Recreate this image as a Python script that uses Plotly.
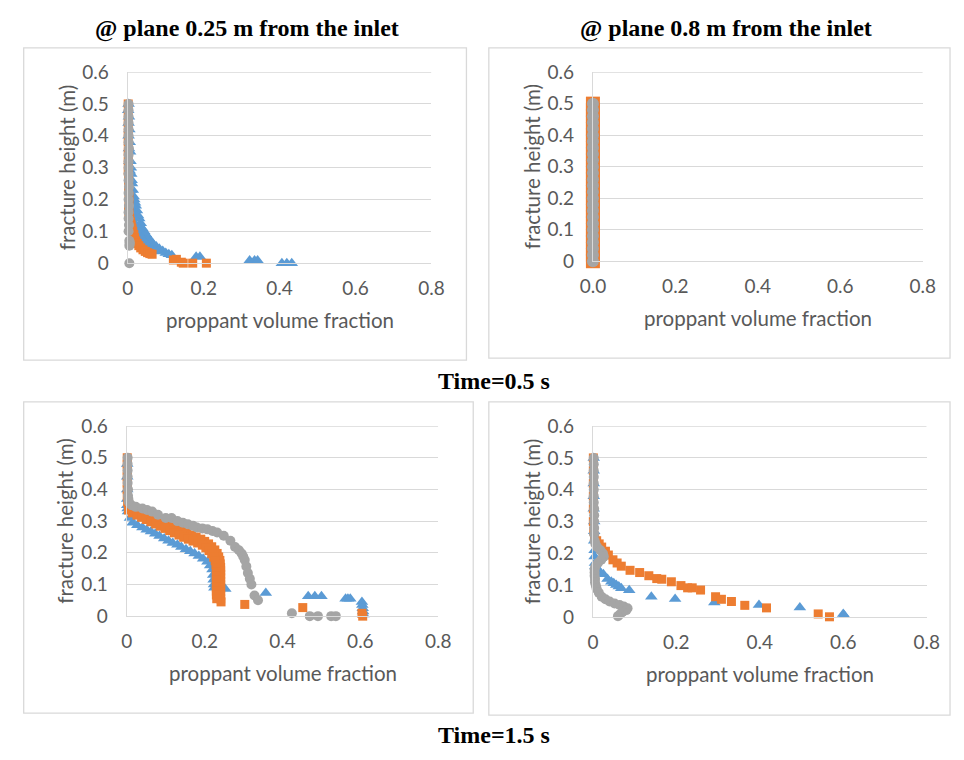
import plotly.graph_objects as go

W, H = 964, 760

# ---------------- data: proppant volume fraction vs. fracture height ----------------
# Panel A: t = 0.5 s, plane 0.25 m from the inlet
a_blue_x = [0.002, 0.003, 0.004, 0.005, 0.006, 0.007, 0.008, 0.009, 0.010, 0.011, 0.013, 0.015,
            0.017, 0.019, 0.021, 0.024, 0.027, 0.030, 0.034, 0.038, 0.043, 0.048, 0.054, 0.060,
            0.067, 0.075, 0.083, 0.092, 0.100, 0.108, 0.116,
            0.001, 0.002, 0.002, 0.003, 0.004, 0.005, 0.006, 0.008, 0.010, 0.012, 0.015, 0.018,
            0.022, 0.026, 0.031, 0.037, 0.044, 0.052, 0.062, 0.072,
            0.180, 0.190, 0.321, 0.334, 0.342, 0.406, 0.419, 0.432]
a_blue_h = [0.50, 0.46, 0.42, 0.38, 0.35, 0.32, 0.30, 0.28, 0.26, 0.25, 0.23, 0.21,
            0.20, 0.19, 0.18, 0.165, 0.15, 0.14, 0.125, 0.11, 0.10, 0.09, 0.08, 0.07,
            0.06, 0.052, 0.045, 0.038, 0.032, 0.028, 0.025,
            0.48, 0.44, 0.40, 0.36, 0.32, 0.29, 0.26, 0.23, 0.20, 0.18, 0.16, 0.14,
            0.12, 0.105, 0.09, 0.078, 0.066, 0.055, 0.045, 0.037,
            0.02, 0.02, 0.008, 0.008, 0.008, 0.0, 0.0, 0.0]
a_orange_x = [0.001, 0.001, 0.001, 0.001, 0.001, 0.001, 0.001, 0.001, 0.002, 0.002, 0.003, 0.003,
              0.002, 0.003, 0.004, 0.005, 0.007, 0.009, 0.011, 0.013, 0.016, 0.018, 0.021, 0.025,
              0.029, 0.034, 0.040, 0.046, 0.052, 0.058, 0.064,
              0.120, 0.128, 0.141, 0.146, 0.171, 0.207]
a_orange_h = [0.50, 0.47, 0.44, 0.41, 0.38, 0.35, 0.32, 0.29, 0.26, 0.23, 0.21, 0.19,
              0.17, 0.16, 0.15, 0.14, 0.13, 0.12, 0.11, 0.10, 0.09, 0.08, 0.07, 0.062,
              0.055, 0.048, 0.042, 0.037, 0.033, 0.030, 0.028,
              0.01, 0.012, 0.003, 0.0, 0.0, 0.0]
a_gray_x = [0.002, 0.002, 0.002, 0.002, 0.002, 0.002, 0.002, 0.003, 0.002, 0.002, 0.002, 0.002,
            0.002, 0.003, 0.002, 0.002, 0.003, 0.002, 0.002, 0.003, 0.002,
            0.004, 0.005, 0.005, 0.004, 0.004]
a_gray_h = [0.50, 0.48, 0.46, 0.44, 0.42, 0.40, 0.38, 0.36, 0.34, 0.32, 0.30, 0.28,
            0.26, 0.24, 0.22, 0.20, 0.18, 0.16, 0.14, 0.12, 0.10,
            0.07, 0.065, 0.06, 0.055, 0.0]

# Panel B: t = 0.5 s, plane 0.8 m from the inlet (no proppant has arrived yet)
b_blue_x = [0.0, 0.0, 0.0, 0.0, 0.0, 0.0, 0.0, 0.0, 0.0, 0.0, 0.0, 0.0, 0.0,
            0.0, 0.0, 0.0, 0.0, 0.0, 0.0, 0.0, 0.0, 0.0, 0.0, 0.0, 0.0, 0.0]
b_orange_x = [0.0, 0.0, 0.0, 0.0, 0.0, 0.0, 0.0, 0.0, 0.0, 0.0, 0.0, 0.0, 0.0,
              0.0, 0.0, 0.0, 0.0, 0.0, 0.0, 0.0, 0.0, 0.0, 0.0, 0.0, 0.0, 0.0]
b_gray_x = [0.0, 0.0, 0.0, 0.0, 0.0, 0.0, 0.0, 0.0, 0.0, 0.0, 0.0, 0.0, 0.0,
            0.0, 0.0, 0.0, 0.0, 0.0, 0.0, 0.0, 0.0, 0.0, 0.0, 0.0, 0.0, 0.0]
b_h = [0.50, 0.48, 0.46, 0.44, 0.42, 0.40, 0.38, 0.36, 0.34, 0.32, 0.30, 0.28, 0.26,
       0.24, 0.22, 0.20, 0.18, 0.16, 0.14, 0.12, 0.10, 0.08, 0.06, 0.04, 0.02, 0.0]

# Panel C: t = 1.5 s, plane 0.25 m from the inlet
c_blue_x = [0.001, 0.001, 0.001, 0.001, 0.001, 0.002, 0.003, 0.008, 0.015, 0.027, 0.040, 0.051,
            0.062, 0.073, 0.084, 0.096, 0.107, 0.118, 0.130, 0.140, 0.152, 0.163, 0.174, 0.185,
            0.196, 0.207, 0.214, 0.220, 0.222, 0.223, 0.224, 0.225,
            0.253, 0.357, 0.466, 0.483, 0.500, 0.562, 0.568, 0.574,
            0.604, 0.605, 0.606, 0.607, 0.608]
c_blue_h = [0.48, 0.44, 0.40, 0.37, 0.35, 0.34, 0.33, 0.31, 0.295, 0.287, 0.280, 0.273,
            0.267, 0.260, 0.253, 0.245, 0.238, 0.231, 0.225, 0.218, 0.211, 0.205, 0.198, 0.190,
            0.181, 0.172, 0.160, 0.147, 0.130, 0.115, 0.100, 0.090,
            0.086, 0.073, 0.063, 0.063, 0.063, 0.055, 0.055, 0.055,
            0.045, 0.035, 0.025, 0.015, 0.005]
c_orange_x = [0.001, 0.001, 0.001, 0.001, 0.001, 0.001, 0.001,
              0.002, 0.005, 0.012, 0.022, 0.034, 0.046, 0.058, 0.070, 0.082, 0.094, 0.106, 0.118,
              0.130, 0.142, 0.154, 0.166, 0.178, 0.190, 0.200, 0.210, 0.218, 0.226, 0.232, 0.236,
              0.239, 0.240, 0.241, 0.241, 0.241, 0.241, 0.241, 0.241, 0.241, 0.241, 0.241, 0.241,
              0.242,
              0.004, 0.014, 0.026, 0.038, 0.050, 0.062, 0.074, 0.086, 0.098, 0.110, 0.122, 0.134,
              0.146, 0.158, 0.170, 0.182, 0.194, 0.203, 0.211, 0.218, 0.223, 0.227, 0.229, 0.230,
              0.230, 0.230, 0.230, 0.230, 0.230, 0.230, 0.230, 0.231,
              0.303, 0.452, 0.604, 0.606]
c_orange_h = [0.50, 0.48, 0.46, 0.44, 0.42, 0.40, 0.38,
              0.360, 0.350, 0.342, 0.336, 0.329, 0.322, 0.316, 0.309, 0.302, 0.295, 0.288, 0.281,
              0.274, 0.268, 0.262, 0.256, 0.250, 0.243, 0.236, 0.228, 0.219, 0.209, 0.198, 0.187,
              0.176, 0.165, 0.154, 0.143, 0.132, 0.121, 0.110, 0.099, 0.088, 0.077, 0.066, 0.055,
              0.045,
              0.335, 0.326, 0.319, 0.312, 0.305, 0.298, 0.291, 0.284, 0.277, 0.270, 0.263, 0.256,
              0.249, 0.243, 0.237, 0.231, 0.224, 0.216, 0.207, 0.197, 0.186, 0.175, 0.163, 0.151,
              0.139, 0.127, 0.115, 0.103, 0.091, 0.079, 0.067, 0.055,
              0.037, 0.027, 0.009, 0.0]
c_gray_x = [0.002, 0.002, 0.002, 0.002, 0.002, 0.003, 0.003, 0.004, 0.005,
            0.012, 0.023, 0.040, 0.052, 0.065, 0.080, 0.100, 0.115, 0.130, 0.144, 0.157, 0.170,
            0.180, 0.194, 0.207, 0.220, 0.232, 0.249, 0.266, 0.278, 0.288, 0.295, 0.299, 0.303,
            0.307, 0.311, 0.316, 0.320, 0.328, 0.337,
            0.424, 0.470, 0.491, 0.525, 0.537]
c_gray_h = [0.50, 0.48, 0.46, 0.44, 0.42, 0.40, 0.38, 0.37, 0.36,
            0.350, 0.345, 0.340, 0.335, 0.330, 0.320, 0.310, 0.310, 0.300, 0.295, 0.290, 0.285,
            0.280, 0.277, 0.274, 0.269, 0.264, 0.254, 0.238, 0.218, 0.208, 0.198, 0.188, 0.177,
            0.157, 0.136, 0.118, 0.100, 0.065, 0.050,
            0.009, 0.0, 0.0, 0.0, 0.0]

# Panel D: t = 1.5 s, plane 0.8 m from the inlet
d_blue_x = [0.002, 0.002, 0.002, 0.002, 0.002, 0.003, 0.003, 0.003, 0.004, 0.004, 0.005, 0.006,
            0.010, 0.018, 0.025, 0.035, 0.044, 0.050, 0.056, 0.062, 0.068, 0.087,
            0.140, 0.197, 0.291, 0.398, 0.496, 0.600, 0.602]
d_blue_h = [0.50, 0.46, 0.42, 0.38, 0.34, 0.30, 0.27, 0.24, 0.21, 0.19, 0.17, 0.16,
            0.150, 0.140, 0.135, 0.120, 0.111, 0.106, 0.101, 0.096, 0.091, 0.084,
            0.064, 0.057, 0.046, 0.038, 0.030, 0.010, 0.006]
d_orange_x = [0.001, 0.001, 0.001, 0.001, 0.001, 0.001, 0.002,
              0.004, 0.009, 0.015, 0.021, 0.030, 0.037, 0.048, 0.058, 0.068, 0.089, 0.112, 0.134,
              0.153, 0.165, 0.188, 0.211, 0.227, 0.238, 0.258, 0.294, 0.308, 0.332, 0.364, 0.416,
              0.540, 0.567]
d_orange_h = [0.50, 0.46, 0.42, 0.38, 0.34, 0.30, 0.27,
              0.250, 0.240, 0.230, 0.220, 0.207, 0.195, 0.180, 0.170, 0.160, 0.147, 0.140, 0.130,
              0.121, 0.119, 0.111, 0.099, 0.092, 0.092, 0.085, 0.064, 0.056, 0.049, 0.037, 0.029,
              0.010, 0.001]
d_gray_x = [0.002, 0.002, 0.002, 0.002, 0.002, 0.002, 0.002, 0.002, 0.003, 0.003, 0.003, 0.003,
            0.003, 0.004, 0.006, 0.010, 0.018, 0.024, 0.026, 0.020, 0.012, 0.006,
            0.004, 0.004, 0.004, 0.005, 0.005, 0.007, 0.009, 0.014, 0.021, 0.030, 0.040,
            0.052, 0.064, 0.074, 0.083, 0.080, 0.071, 0.065, 0.060]
d_gray_h = [0.50, 0.48, 0.46, 0.44, 0.42, 0.40, 0.38, 0.36, 0.34, 0.32, 0.30, 0.28,
            0.26, 0.24, 0.23, 0.22, 0.21, 0.20, 0.19, 0.18, 0.17, 0.16,
            0.15, 0.14, 0.13, 0.12, 0.109, 0.099, 0.089, 0.077, 0.064, 0.056, 0.049,
            0.043, 0.038, 0.033, 0.028, 0.022, 0.016, 0.009, 0.003]

x_ticks = [0, 0.2, 0.4, 0.6, 0.8]
y_ticks = [0, 0.1, 0.2, 0.3, 0.4, 0.5, 0.6]

# ---------------- styling ----------------
BLUE, ORANGE, GRAY = "#5B9BD5", "#ED7D31", "#A5A5A5"
GRID = "#D9D9D9"
TICK = "#595959"
FONT = "Lato"


def px(x):
    return x / W


def py(y):
    return 1 - y / H


# plot-area pixel boxes (left, right, top, bottom) for the four panels
panels = [
    dict(box=(118, 430, 62, 259), series=[(a_blue_x, a_blue_h), (a_orange_x, a_orange_h), (a_gray_x, a_gray_h)],
         fmt="", sizes=(11, 9, 10)),
    dict(box=(596, 935, 62, 257), series=[(b_blue_x, b_h), (b_orange_x, b_h), (b_gray_x, b_h)],
         fmt=".1f", sizes=(12, 14, 12)),
    dict(box=(117, 437, 427, 623), series=[(c_blue_x, c_blue_h), (c_orange_x, c_orange_h), (c_gray_x, c_gray_h)],
         fmt="", sizes=(11, 9, 10)),
    dict(box=(596, 939, 427, 624), series=[(d_blue_x, d_blue_h), (d_orange_x, d_orange_h), (d_gray_x, d_gray_h)],
         fmt="", sizes=(11, 9, 10)),
]

symbols = ["triangle-up", "square", "circle"]
colors = [BLUE, ORANGE, GRAY]

fig = go.Figure()
layout = dict(
    width=W, height=H, margin=dict(l=0, r=0, t=0, b=0),
    paper_bgcolor="white", plot_bgcolor="white", showlegend=False,
    font=dict(family=FONT, color=TICK),
)

annotations = []
shapes = []
for i, p in enumerate(panels, start=1):
    xa = "x" if i == 1 else f"x{i}"
    ya = "y" if i == 1 else f"y{i}"
    for (xs, hs), sym, col, sz in zip(p["series"], symbols, colors, p["sizes"]):
        fig.add_trace(go.Scatter(
            x=xs, y=hs, mode="markers", xaxis=xa, yaxis=ya, cliponaxis=False,
            marker=dict(symbol=sym, color=col, size=sz, line=dict(width=0)),
            hoverinfo="skip",
        ))
    l, r, t, b = p["box"]
    layout["xaxis" if i == 1 else f"xaxis{i}"] = dict(
        domain=[px(l), px(r)], range=[0, 0.8], anchor=ya,
        tickvals=x_ticks, tickformat=p["fmt"], showgrid=False, zeroline=False,
        showline=True, linecolor=GRID, linewidth=1.3, ticks="",
        tickfont=dict(family=FONT, size=19, color=TICK), ticklabelstandoff=8,
    )
    layout["yaxis" if i == 1 else f"yaxis{i}"] = dict(
        domain=[py(b), py(t)], range=[0, 0.6], anchor=xa,
        tickvals=y_ticks, showgrid=True, gridcolor=GRID, gridwidth=1.3, zeroline=False,
        showline=True, linecolor=GRID, linewidth=1.3, ticks="",
        tickfont=dict(family=FONT, size=19, color=TICK), ticklabelstandoff=14,
    )
    # top gridline at 0.6
    shapes.append(dict(
        type="line", xref=xa, yref=ya, x0=0, x1=0.8, y0=0.6, y1=0.6,
        line=dict(color=GRID, width=1.3), layer="below",
    ))
    # axis titles
    annotations.append(dict(
        text="proppant volume fraction", x=px((l + r) / 2), y=py(b + 59),
        xref="paper", yref="paper", showarrow=False,
        font=dict(family=FONT, size=20.5, color=TICK), xanchor="center", yanchor="middle",
    ))
    annotations.append(dict(
        text="fracture height (m)", x=px(l - 63), y=py((t + b) / 2),
        xref="paper", yref="paper", showarrow=False, textangle=-90,
        font=dict(family=FONT, size=20.5, color=TICK), xanchor="center", yanchor="middle",
    ))

# column titles and time labels
for txt, cx, cy, sz in [
    ("<b>@ plane 0.25 m from the inlet</b>", 240, 17, 24),
    ("<b>@ plane 0.8 m from the inlet</b>", 733, 17, 24),
    ("<b>Time=0.5 s</b>", 494, 380, 24),
    ("<b>Time=1.5 s</b>", 494, 746, 24),
]:
    annotations.append(dict(
        text=txt, x=px(cx), y=py(cy), xref="paper", yref="paper", showarrow=False,
        font=dict(family="Liberation Serif", size=sz, color="#000000"),
        xanchor="center", yanchor="middle",
    ))

# light frames around each chart
for (l, r, t, b) in [(11, 466, 37, 359), (489, 963, 37, 357), (11, 473, 402, 723), (489, 963, 402, 725)]:
    shapes.append(dict(
        type="rect", xref="paper", yref="paper",
        x0=px(l), x1=px(r), y0=py(b), y1=py(t),
        line=dict(color="#D9D9D9", width=1.3), fillcolor="rgba(0,0,0,0)", layer="below",
    ))

layout["annotations"] = annotations
layout["shapes"] = shapes
fig.update_layout(**layout)

fig.write_html("out.html")
